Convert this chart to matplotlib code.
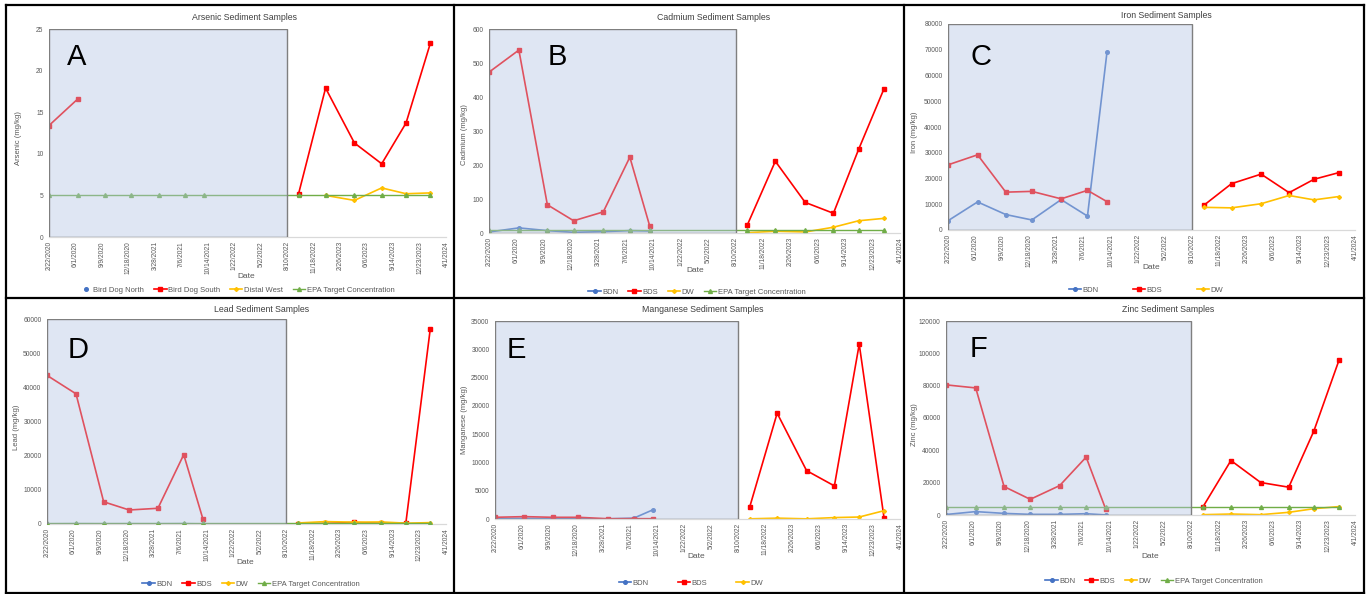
import datetime as dt
import numpy as np
import matplotlib
matplotlib.use("Agg")
import matplotlib.pyplot as plt
import matplotlib.dates as mdates
from matplotlib.patches import Rectangle
from matplotlib.lines import Line2D

plt.rcParams["font.family"] = ["Liberation Sans", "DejaVu Sans"]

nan = np.nan

# Sampling dates: first campaign (shaded) and second campaign
dates_p1 = ["2020-02-22", "2020-06-10", "2020-09-22", "2020-12-27",
            "2021-04-14", "2021-07-20", "2021-09-30"]
dates_p2 = ["2022-09-22", "2023-01-02", "2023-04-21", "2023-08-02",
            "2023-11-02", "2024-02-02"]

# Arsenic (mg/kg)
arsenic_bdn = [nan] * 13
arsenic_bds = [13.4, 16.6, nan, nan, nan, nan, nan, 5.2, 17.9, 11.3, 8.8, 13.7, 23.3]
arsenic_dw = [nan] * 7 + [nan, 5.0, 4.4, 5.9, 5.2, 5.3]
arsenic_epa = [5] * 13

# Cadmium (mg/kg)
cadmium_bdn = [3, 15, 7, 2, 4, 7, 6] + [nan] * 6
cadmium_bds = [473, 538, 83, 36, 62, 223, 22, 24, 211, 90, 58, 246, 423]
cadmium_dw = [nan] * 7 + [1, 5, 3, 17, 36, 43]
cadmium_epa = [9] * 13

# Iron (mg/kg)
iron_bdn = [3600, 10900, 6000, 3900, 11800, 5400, 69100] + [nan] * 6
iron_bds = [25300, 29200, 14700, 15000, 12100, 15400, 11000,
            9600, 18000, 21700, 14500, 19700, 22300]
iron_dw = [nan] * 7 + [8800, 8600, 10200, 13400, 11700, 13000]

# Lead (mg/kg)
lead_bdn = [50, 80, 60, 70, 60, 90, 30] + [nan] * 6
lead_bds = [43500, 38100, 6500, 4100, 4600, 20300, 1500,
            100, 150, 450, 200, 250, 57200]
lead_dw = [nan] * 7 + [300, 700, 550, 600, 250, 400]
lead_epa = [400] * 13

# Manganese (mg/kg)
manganese_bdn = [60, 120, 40, 30, 30, 150, 1650] + [nan] * 6
manganese_bds = [300, 420, 300, 300, 50, 60, 50,
                 2060, 18700, 8550, 5850, 30900, 180]
manganese_dw = [nan] * 7 + [30, 150, 30, 250, 350, 1470]

# Zinc (mg/kg)
zinc_bdn = [300, 2100, 1000, 400, 400, 800, 50] + [nan] * 6
zinc_bds = [80500, 78600, 17600, 9700, 18200, 35800, 3500,
            5200, 33700, 20100, 17200, 51900, 95600]
zinc_dw = [nan] * 7 + [200, 600, 200, 1650, 3900, 5200]
zinc_epa = [4800] * 13

W, H = 1366, 594
fig = plt.figure(figsize=(W / 100, H / 100), dpi=100)
fig.patch.set_facecolor("white")

def fx(x):
    return x / W

def fy(y):
    return 1 - y / H

all_dates = [dt.datetime.strptime(d, "%Y-%m-%d") for d in dates_p1 + dates_p2]
x_all = mdates.date2num(all_dates)
n1 = len(dates_p1)

start = dt.datetime(2020, 2, 22)
end = dt.datetime(2024, 4, 1)
shade_end = dt.datetime(2022, 8, 10)
tick_dates = [start + dt.timedelta(days=100 * k) for k in range(16)]
tick_labels = [f"{d.month}/{d.day}/{d.year}" for d in tick_dates]

STYLE = {
    "BDN": dict(color="#4472C4", marker="o", ms=2.6),
    "BDS": dict(color="#FF0000", marker="s", ms=2.8),
    "DW": dict(color="#FFC000", marker="D", ms=2.0),
    "EPA": dict(color="#70AD47", marker="^", ms=2.8),
}
GRAY = "#595959"

panels = [
    dict(title="Arsenic Sediment Samples", ylabel="Arsenic (mg/kg)", letter="A",
         ymax=25, ystep=5, box=(49, 29, 446, 237), letter_xy=(77, 57),
         title_xy=(245, 17), ylab_xy=(19, 138), date_xy=(246, 277),
         leg_xy=(237, 290), colsp=1.3,
         series=[("BDN", "Bird Dog North", arsenic_bdn),
                 ("BDS", "Bird Dog South", arsenic_bds),
                 ("DW", "Distal West", arsenic_dw),
                 ("EPA", "EPA Target Concentration", arsenic_epa)]),
    dict(title="Cadmium Sediment Samples", ylabel="Cadmium (mg/kg)", letter="B",
         ymax=600, ystep=100, box=(489, 29, 900, 233), letter_xy=(557, 57),
         title_xy=(714, 17), ylab_xy=(464, 135), date_xy=(695, 270),
         leg_xy=(697, 292), colsp=1.3,
         series=[("BDN", "BDN", cadmium_bdn), ("BDS", "BDS", cadmium_bds),
                 ("DW", "DW", cadmium_dw),
                 ("EPA", "EPA Target Concentration", cadmium_epa)]),
    dict(title="Iron Sediment Samples", ylabel="Iron (mg/kg)", letter="C",
         ymax=80000, ystep=10000, box=(948, 24, 1355, 230), letter_xy=(981, 57),
         title_xy=(1166, 15), ylab_xy=(914, 132), date_xy=(1151, 268),
         leg_xy=(1146, 290), colsp=4.5,
         series=[("BDN", "BDN", iron_bdn), ("BDS", "BDS", iron_bds),
                 ("DW", "DW", iron_dw)]),
    dict(title="Lead Sediment Samples", ylabel="Lead (mg/kg)", letter="D",
         ymax=60000, ystep=10000, box=(47, 319, 446, 524), letter_xy=(78, 350),
         title_xy=(262, 309), ylab_xy=(16, 427), date_xy=(245, 562),
         leg_xy=(251, 584), colsp=1.3,
         series=[("BDN", "BDN", lead_bdn), ("BDS", "BDS", lead_bds),
                 ("DW", "DW", lead_dw),
                 ("EPA", "EPA Target Concentration", lead_epa)]),
    dict(title="Manganese Sediment Samples", ylabel="Manganese (mg/kg)", letter="E",
         ymax=35000, ystep=5000, box=(495, 321, 900, 519), letter_xy=(516, 350),
         title_xy=(703, 309), ylab_xy=(464, 420), date_xy=(696, 557),
         leg_xy=(691, 583), colsp=3.8,
         series=[("BDN", "BDN", manganese_bdn), ("BDS", "BDS", manganese_bds),
                 ("DW", "DW", manganese_dw)]),
    dict(title="Zinc Sediment Samples", ylabel="Zinc (mg/kg)", letter="F",
         ymax=120000, ystep=20000, box=(946, 321, 1355, 515), letter_xy=(978, 349),
         title_xy=(1168, 309), ylab_xy=(914, 425), date_xy=(1150, 556),
         leg_xy=(1154, 581), colsp=1.3,
         series=[("BDN", "BDN", zinc_bdn), ("BDS", "BDS", zinc_bds),
                 ("DW", "DW", zinc_dw),
                 ("EPA", "EPA Target Concentration", zinc_epa)]),
]

for p in panels:
    l, t, r, b = p["box"]
    ax = fig.add_axes([fx(l), fy(b), fx(r) - fx(l), fy(t) - fy(b)])
    ax.set_xlim(mdates.date2num(start), mdates.date2num(end))
    ax.set_ylim(0, p["ymax"])
    ax.set_facecolor("none")

    handles = []
    for key, label, vals in p["series"]:
        st = STYLE[key]
        vals = np.asarray(vals, dtype=float)
        if key == "EPA":
            ax.plot(x_all, vals, color=st["color"], lw=1.0, marker=st["marker"],
                    ms=st["ms"], zorder=3)
            h = Line2D([], [], color=st["color"], lw=1.0, marker=st["marker"], ms=st["ms"])
        elif np.all(np.isnan(vals)):
            h = Line2D([], [], color=st["color"], lw=0, marker=st["marker"], ms=st["ms"],
                       linestyle="none")
        else:
            for seg in (slice(0, n1), slice(n1, None)):
                ax.plot(x_all[seg], vals[seg], color=st["color"], lw=1.2,
                        marker=st["marker"], ms=st["ms"], zorder=2)
            h = Line2D([], [], color=st["color"], lw=1.2, marker=st["marker"], ms=st["ms"])
        handles.append((h, label))

    # First sampling campaign, shaded over the data
    x0 = mdates.date2num(start)
    x1 = mdates.date2num(shade_end)
    ax.add_patch(Rectangle((x0, 0), x1 - x0, p["ymax"],
                           facecolor=(0.70, 0.77, 0.89, 0.42),
                           edgecolor="#7F7F7F", lw=1.0, zorder=5))

    yt = np.arange(0, p["ymax"] + p["ystep"] / 2, p["ystep"])
    ax.set_yticks(yt)
    ax.set_yticklabels([f"{int(v)}" for v in yt])
    ax.set_xticks(mdates.date2num(tick_dates))
    ax.set_xticklabels(tick_labels, rotation=90, ha="center", va="top")
    ax.tick_params(axis="both", length=0, labelsize=4.8, labelcolor=GRAY)
    ax.tick_params(axis="x", pad=3)
    ax.tick_params(axis="y", pad=4)
    for s in ("left", "right", "top"):
        ax.spines[s].set_visible(False)
    ax.spines["bottom"].set_color("#D9D9D9")
    ax.spines["bottom"].set_linewidth(0.9)

    ax.text(fx(p["letter_xy"][0]), fy(p["letter_xy"][1]), p["letter"],
            transform=fig.transFigure, fontsize=21, color="black", zorder=10,
            va="center", ha="center")

    fig.text(fx(p["title_xy"][0]), fy(p["title_xy"][1]), p["title"],
             ha="center", va="center", fontsize=6.3, color="#404040")
    fig.text(fx(p["ylab_xy"][0]), fy(p["ylab_xy"][1]), p["ylabel"],
             ha="center", va="center", rotation=90, fontsize=5.5, color=GRAY)
    fig.text(fx(p["date_xy"][0]), fy(p["date_xy"][1]), "Date",
             ha="center", va="center", fontsize=6, color=GRAY)

    fig.legend([h for h, _ in handles], [lab for _, lab in handles],
               loc="center", bbox_to_anchor=(fx(p["leg_xy"][0]), fy(p["leg_xy"][1])),
               bbox_transform=fig.transFigure, ncol=len(handles), frameon=False,
               fontsize=5.5, handlelength=1.6, handletextpad=0.2,
               columnspacing=p["colsp"], labelcolor=GRAY, borderpad=0)

# Panel frames
frame = dict(color="black", lw=1.6, transform=fig.transFigure)
L, T, R, B = 6, 5, 1364, 593
for (xa, ya, xb, yb) in [(L, T, R, T), (L, B, R, B), (L, T, L, B), (R, T, R, B),
                         (454, T, 454, B), (904, T, 904, B), (L, 298, R, 298)]:
    fig.add_artist(Line2D([fx(xa), fx(xb)], [fy(ya), fy(yb)], **frame))

fig.savefig("out.png", dpi=100, facecolor="white")
